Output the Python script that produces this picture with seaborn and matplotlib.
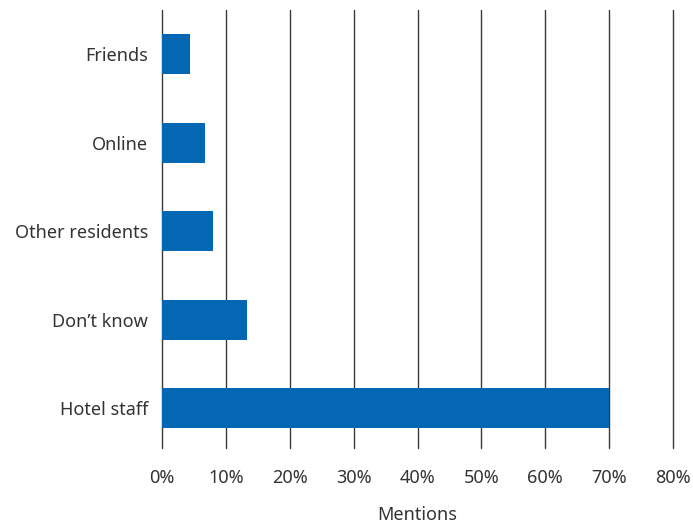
import matplotlib
matplotlib.use("Agg")
import matplotlib.pyplot as plt
import matplotlib.ticker as mticker
import seaborn as sns
import pandas as pd

sources  = ["Friends", "Online", "Other residents", "Don\u2019t know", "Hotel staff"]
mentions = [4.3, 6.7, 7.9, 13.3, 70.0]
x_ticks  = [0, 10, 20, 30, 40, 50, 60, 70, 80]

BAR_COLOR  = "#0367B3"
GRID_COLOR = "#3a3a3a"
TEXT_COLOR = "#333333"
FS = 13

sns.set_theme(style="white")
plt.rcParams["font.family"] = ["Noto Sans", "DejaVu Sans"]

df = pd.DataFrame({"source": sources, "mentions": mentions})

fig = plt.figure(figsize=(6.93, 5.24), dpi=100)
ax = fig.add_axes([0.234, 0.145, 0.737, 0.836])

sns.barplot(data=df, x="mentions", y="source", orient="h", color=BAR_COLOR,
            saturation=1, width=0.45, linewidth=0, ax=ax, zorder=3)

ax.set_xlim(0, 80)
ax.set_ylim(4.45, -0.5)
ax.set_xticks(x_ticks)
ax.xaxis.set_major_formatter(mticker.FuncFormatter(lambda v, _: f"{int(v)}%"))

for xv in x_ticks:
    ax.axvline(xv, color=GRID_COLOR, linewidth=1.0, zorder=1, clip_on=False)

for s in ax.spines.values():
    s.set_visible(False)

ax.tick_params(axis="both", length=0, labelsize=FS, labelcolor=TEXT_COLOR)
ax.tick_params(axis="y", pad=10)
ax.tick_params(axis="x", pad=15)
ax.set_ylabel("")
ax.set_xlabel("Mentions", fontsize=FS, color=TEXT_COLOR, labelpad=14)

fig.savefig("out.png", dpi=100)
plt.close(fig)
